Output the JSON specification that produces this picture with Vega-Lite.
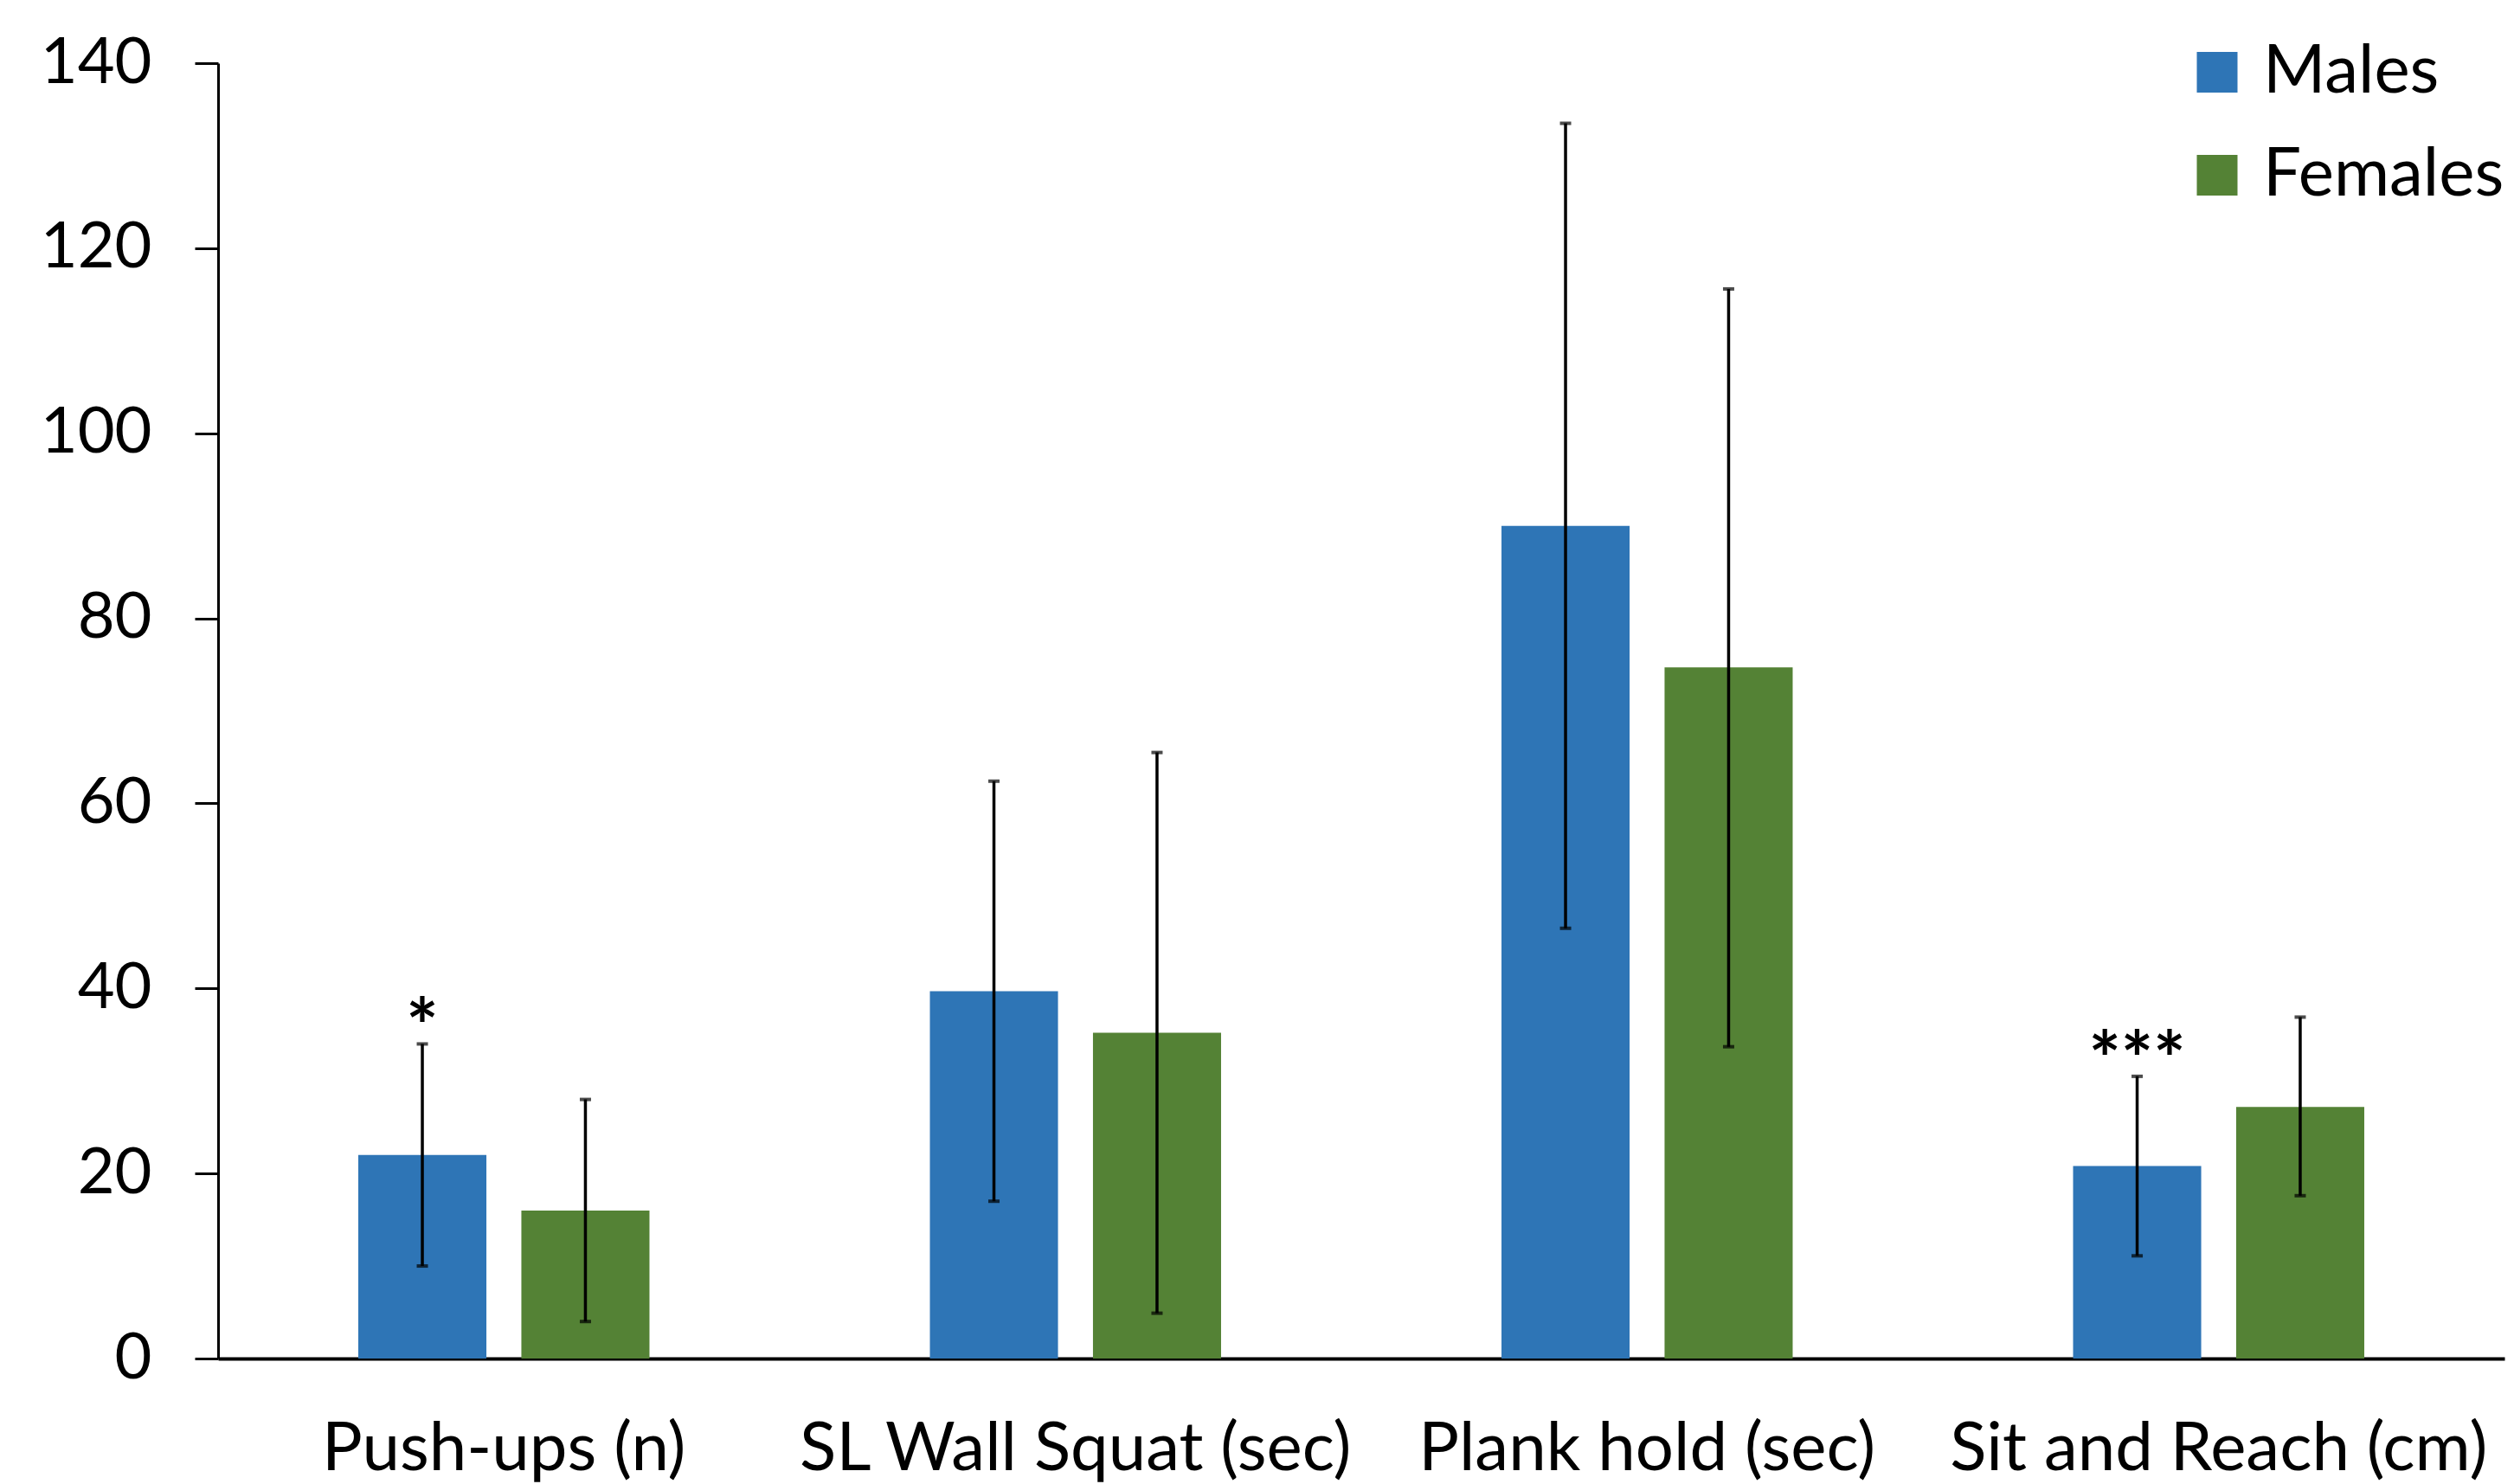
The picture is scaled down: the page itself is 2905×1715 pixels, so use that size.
{
  "$schema": "https://vega.github.io/schema/vega-lite/v6.json",
  "width": 2642,
  "height": 1497,
  "autosize": {"type": "none"},
  "padding": {"left": 252, "top": 73, "right": 11, "bottom": 145},
  "background": "white",
  "config": {"view": {"stroke": null}, "font": "Lato"},
  "data": {"values": [
    {"test": "Push-ups (n)", "sex": "Males", "mean": 22.0, "low": 10.0, "high": 34.0, "sig": "*"},
    {"test": "Push-ups (n)", "sex": "Females", "mean": 16.0, "low": 4.0, "high": 28.0, "sig": ""},
    {"test": "SL Wall Squat (sec)", "sex": "Males", "mean": 39.7, "low": 17.0, "high": 62.4, "sig": ""},
    {"test": "SL Wall Squat (sec)", "sex": "Females", "mean": 35.2, "low": 4.9, "high": 65.5, "sig": ""},
    {"test": "Plank hold (sec)", "sex": "Males", "mean": 90.0, "low": 46.5, "high": 133.5, "sig": ""},
    {"test": "Plank hold (sec)", "sex": "Females", "mean": 74.7, "low": 33.7, "high": 115.6, "sig": ""},
    {"test": "Sit and Reach (cm)", "sex": "Males", "mean": 20.8, "low": 11.1, "high": 30.5, "sig": "***"},
    {"test": "Sit and Reach (cm)", "sex": "Females", "mean": 27.2, "low": 17.6, "high": 36.9, "sig": ""}
  ]},
  "encoding": {
    "x": {
      "field": "test", "type": "nominal", "sort": null, "title": null,
      "scale": {"paddingInner": 0, "paddingOuter": 0},
      "axis": {
        "ticks": false, "domainWidth": 4, "domainColor": "black",
        "labelFontSize": 78, "labelAngle": 0, "labelPadding": 128,
        "labelBaseline": "alphabetic", "labelColor": "black",
        "labelLimit": 1000, "labelOverlap": false
      }
    },
    "xOffset": {
      "field": "sex", "type": "nominal", "sort": ["Males", "Females"],
      "scale": {"paddingInner": 0.2144, "paddingOuter": 0.8598}
    }
  },
  "layer": [
    {
      "mark": {"type": "bar"},
      "encoding": {
        "y": {
          "field": "mean", "type": "quantitative", "title": null,
          "scale": {"domain": [0, 140], "nice": false},
          "axis": {
            "values": [0, 20, 40, 60, 80, 100, 120, 140],
            "grid": false, "tickSize": 27, "tickWidth": 3, "tickColor": "black",
            "domainWidth": 3, "domainColor": "black",
            "labelFontSize": 74, "labelPadding": 50, "labelColor": "black"
          }
        },
        "color": {
          "field": "sex", "type": "nominal", "sort": ["Males", "Females"],
          "scale": {"range": ["#2E75B6", "#548235"]},
          "legend": {
            "orient": "none", "legendX": 2271, "legendY": -28.5,
            "title": null, "symbolType": "square", "symbolSize": 2209,
            "symbolStrokeWidth": 0, "labelFontSize": 78, "labelOffset": 14,
            "rowPadding": 41, "padding": 0, "labelColor": "black", "labelLimit": 1000
          }
        }
      }
    },
    {
      "mark": {"type": "rule", "color": "black", "strokeWidth": 3.5},
      "encoding": {
        "y": {"field": "low", "type": "quantitative", "title": null},
        "y2": {"field": "high"}
      }
    },
    {
      "mark": {"type": "tick", "color": "black", "thickness": 4, "size": 13},
      "encoding": {"y": {"field": "low", "type": "quantitative", "title": null}}
    },
    {
      "mark": {"type": "tick", "color": "black", "thickness": 4, "size": 13},
      "encoding": {"y": {"field": "high", "type": "quantitative", "title": null}}
    },
    {
      "mark": {"type": "text", "fontSize": 88, "fontWeight": "bold", "baseline": "alphabetic", "dy": 12, "color": "black"},
      "encoding": {
        "y": {"field": "high", "type": "quantitative", "title": null},
        "text": {"field": "sig"}
      }
    }
  ]
}
